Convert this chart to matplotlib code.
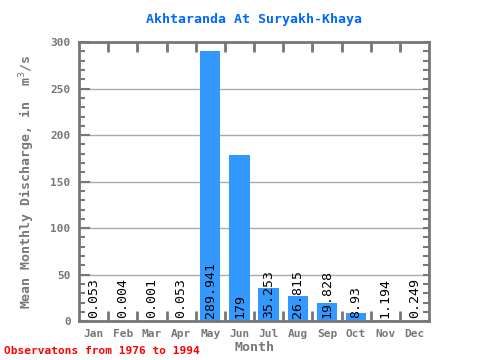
import matplotlib
matplotlib.use("Agg")
import matplotlib.pyplot as plt
from matplotlib.ticker import MultipleLocator, FixedLocator

months = ["Jan", "Feb", "Mar", "Apr", "May", "Jun", "Jul", "Aug", "Sep", "Oct", "Nov", "Dec"]
values = [0.053, 0.004, 0.001, 0.053, 289.941, 179, 35.253, 26.815, 19.828, 8.93, 1.194, 0.249]
labels = ["0.053", "0.004", "0.001", "0.053", "289.941", "179", "35.253", "26.815", "19.828", "8.93", "1.194", "0.249"]

mono = "DejaVu Sans Mono"
gray = "#777777"

fig = plt.figure(figsize=(4.8, 3.6), dpi=100)
ax = fig.add_axes([0.1646, 0.108, 0.7292, 0.775])

x = list(range(len(months)))
ax.bar(x, values, width=0.7, color="#3399ff", zorder=2)
ax.set_xlim(-0.5, 11.5)
ax.set_ylim(0, 300)

ax.yaxis.set_major_locator(MultipleLocator(50))
ax.yaxis.set_minor_locator(MultipleLocator(10))
ax.grid(axis="y", which="major", color="#aaaaaa", linewidth=1, zorder=1)

ax.set_xticks(x)
ax.set_xticklabels(months)
ax.xaxis.set_minor_locator(FixedLocator([i + 0.5 for i in range(11)]))
ax.tick_params(axis="x", which="major", length=0, pad=6)
ax.tick_params(axis="x", which="minor", length=7, width=2, color=gray, direction="in", top=True, bottom=True)
ax.tick_params(axis="y", which="major", length=8, width=1.5, color=gray, direction="in", left=True, right=False, pad=6)
ax.tick_params(axis="y", which="minor", length=4, width=1.5, color=gray, direction="in", left=True, right=True)
# right side: short ticks at every 10, including majors
ax2 = ax.twinx()
ax2.set_ylim(0, 300)
ax2.yaxis.set_major_locator(MultipleLocator(10))
ax2.tick_params(axis="y", which="major", length=4, width=1.5, color=gray, direction="in", labelright=False)
ax2.set_yticklabels([])
for s in ax2.spines.values():
    s.set_visible(False)

for lab in ax.get_xticklabels() + ax.get_yticklabels():
    lab.set_fontfamily(mono)
    lab.set_fontweight("bold")
    lab.set_fontsize(8)
    lab.set_color(gray)

for s in ax.spines.values():
    s.set_color(gray)
    s.set_linewidth(2)

for xi, lab in zip(x, labels):
    ax.text(xi, 3, lab, rotation=90, ha="center", va="bottom", fontsize=9.5,
            fontfamily=mono, color="black", zorder=3)

ax.set_title("Akhtaranda At Suryakh-Khaya", fontfamily=mono, fontweight="bold",
             fontsize=9.5, color="#0066ff", pad=14)
ax.set_xlabel("Month", fontfamily=mono, fontweight="bold", fontsize=9.5, color=gray, labelpad=1)
ax.set_ylabel("Mean Monthly Discharge, in  m$^3$/s", fontfamily=mono, fontweight="bold",
              fontsize=9.5, color=gray, labelpad=10)

fig.text(0.008, 0.012, "Observatons from 1976 to 1994", fontfamily=mono, fontweight="bold",
         fontsize=8, color="#ff0000", ha="left", va="bottom")

fig.savefig("out.png", dpi=100)
